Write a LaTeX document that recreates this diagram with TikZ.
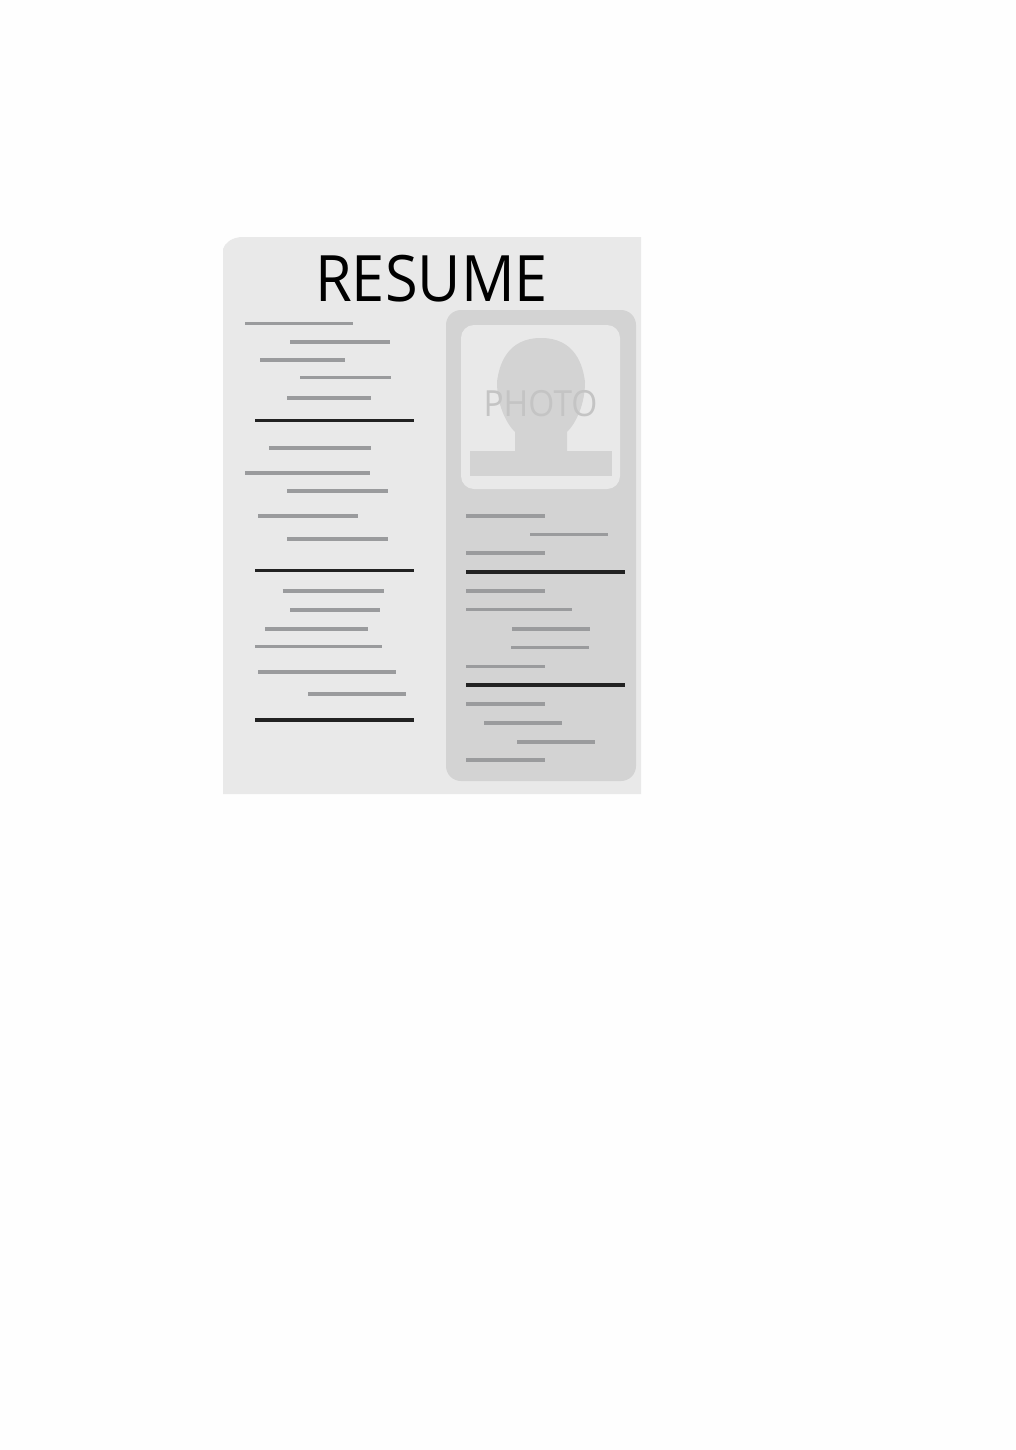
\documentclass[tikz,border=0pt]{standalone}
\usepackage{fontspec}
\setmainfont{Open Sans}
\definecolor{pagebg}{HTML}{E9E9E9}
\definecolor{panelbg}{HTML}{D3D3D3}
\definecolor{thin}{HTML}{9A9B9D}
\definecolor{thick}{HTML}{222222}
\definecolor{phototxt}{HTML}{C4C4C4}
\tikzset{
  thinline/.style={draw=thin,line width=3.4pt},
  thickline/.style={draw=thick,line width=3.4pt},
  flat/.style={fill=#1,draw=none},
}
\begin{document}
\begin{tikzpicture}[x=1pt,y=-1pt]
\useasboundingbox (0,0) rectangle (1016,1450);
\fill[white!99.5!black] (0,0) rectangle (1016,1450);
% page
\path[flat=pagebg] (223,249) .. controls (225,243) and (231,238) .. (241,237) -- (641,237) -- (641,794) -- (223,794) -- cycle;
% side panel
\path[flat=panelbg,rounded corners=15pt] (446,310) rectangle (636,781);
% photo frame
\path[flat=pagebg,rounded corners=13pt] (461,325) rectangle (620,489);
% silhouette
\path[flat=panelbg] (515,451) -- (515,432) .. controls (505,422) and (497,403) .. (497,382)
  .. controls (499,365) and (507,338) .. (541,338)
  .. controls (575,338) and (583,365) .. (585,382)
  .. controls (585,403) and (577,422) .. (567,432) -- (567,451) -- cycle;
\path[flat=panelbg] (470,451) rectangle (612,476);
% texts
\node[inner sep=0pt,anchor=center,text=black,font=\fontsize{64}{64}\selectfont,xscale=0.93] (title) at (431.5,278.5) {RESUME};
\node[inner sep=0pt,anchor=center,text=phototxt,font=\fontsize{36}{36}\selectfont,xscale=0.93] (photo) at (540.5,403.5) {PHOTO};
% rules
\foreach \a/\b/\y in {245/353/323.5,290/390/342,260/345/360,300/391/377.5,287/371/398,
  269/371/448,245/370/473,287/388/491,258/358/516,287/388/539,
  282.5/384/591,290/380/610,265/368/629,255/382/646.5,258/396/672,308/406/694,
  466/545/516,530/608/534.5,466/545/553,466/545/591,466/572/609.5,512/590/629,511/589/647.5,
  466/545/666.5,466/545/704,484/562/723,517/595/742,466/545/760}
  \path[thinline] (\a,\y) -- (\b,\y);
\foreach \a/\b/\y in {255/414/420.5,255/414/570.5,255/414/720,466/625/572,466/625/685}
  \path[thickline] (\a,\y) -- (\b,\y);
\end{tikzpicture}
\end{document}
